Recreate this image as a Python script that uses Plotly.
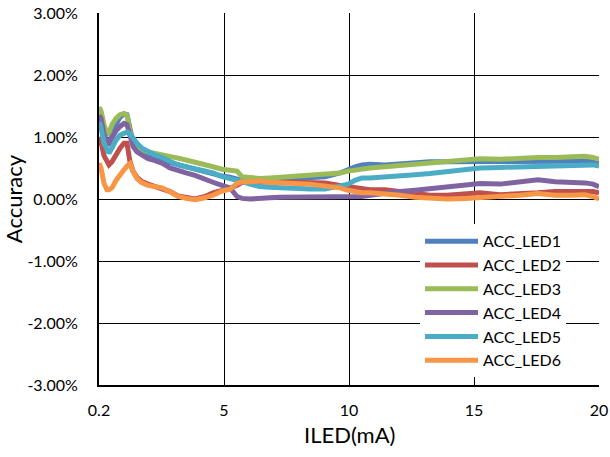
import plotly.graph_objects as go

# x positions (mA scale of the category axis; first sample is 0.2 mA)
iled = [0, 0.08, 0.2, 0.32, 0.4, 0.52, 0.68, 0.84, 1.0, 1.12, 1.24, 1.36, 1.52, 1.72, 1.96,
        2.24, 2.52, 2.84, 3.16, 3.48, 3.84, 4.24, 4.56, 4.92, 5.24, 5.52, 5.72, 6.04, 6.44,
        6.84, 7.24, 7.84, 8.44, 9.04, 9.64, 9.96, 10.24, 10.52, 10.84, 11.44, 12.04, 12.64,
        13.24, 13.92, 14.64, 15.24, 16.04, 16.84, 17.56, 18.24, 18.84, 19.44, 19.76, 20.0]

acc_led1 = [1.32, 1.25, 1.0, 0.88, 0.9, 1.05, 1.2, 1.32, 1.37, 1.36, 1.1, 0.92, 0.8, 0.72, 0.68,
            0.65, 0.62, 0.6, 0.56, 0.52, 0.48, 0.44, 0.4, 0.37, 0.35, 0.33, 0.3, 0.3, 0.3, 0.31,
            0.32, 0.33, 0.34, 0.36, 0.42, 0.48, 0.52, 0.55, 0.56, 0.55, 0.57, 0.6, 0.6, 0.6, 0.6,
            0.6, 0.59, 0.6, 0.6, 0.61, 0.61, 0.62, 0.6, 0.58]
acc_led2 = [1.0, 0.92, 0.7, 0.58, 0.55, 0.6, 0.72, 0.82, 0.9, 0.9, 0.6, 0.45, 0.35, 0.28, 0.24,
            0.2, 0.17, 0.12, 0.05, 0.02, 0.0, 0.04, 0.1, 0.14, 0.17, 0.22, 0.27, 0.28, 0.27, 0.28,
            0.27, 0.27, 0.27, 0.26, 0.22, 0.2, 0.17, 0.15, 0.15, 0.15, 0.12, 0.08, 0.06, 0.06,
            0.08, 0.1, 0.07, 0.08, 0.1, 0.12, 0.12, 0.14, 0.12, 0.1]
acc_led3 = [1.48, 1.42, 1.2, 1.05, 1.07, 1.2, 1.3, 1.36, 1.38, 1.35, 1.1, 0.95, 0.85, 0.78, 0.76,
            0.74, 0.71, 0.7, 0.66, 0.63, 0.6, 0.55, 0.52, 0.48, 0.46, 0.45, 0.36, 0.34, 0.33, 0.34,
            0.35, 0.36, 0.37, 0.39, 0.42, 0.45, 0.47, 0.49, 0.5, 0.52, 0.54, 0.56, 0.58, 0.6, 0.63,
            0.65, 0.64, 0.66, 0.67, 0.67, 0.68, 0.69, 0.67, 0.64]
acc_led4 = [1.35, 1.3, 1.05, 0.92, 0.9, 1.0, 1.1, 1.17, 1.22, 1.2, 1.0, 0.85, 0.76, 0.7, 0.65,
            0.62, 0.58, 0.5, 0.45, 0.42, 0.38, 0.31, 0.27, 0.22, 0.18, 0.04, 0.01, 0.0, 0.0, 0.02,
            0.03, 0.03, 0.03, 0.03, 0.02, 0.02, 0.03, 0.04, 0.06, 0.1, 0.12, 0.14, 0.17, 0.2, 0.23,
            0.25, 0.24, 0.27, 0.31, 0.28, 0.28, 0.26, 0.24, 0.2]
acc_led5 = [1.24, 1.15, 0.9, 0.77, 0.74, 0.82, 0.95, 1.03, 1.07, 1.08, 1.05, 0.97, 0.9, 0.82, 0.76,
            0.71, 0.67, 0.6, 0.55, 0.52, 0.49, 0.44, 0.42, 0.36, 0.33, 0.31, 0.28, 0.24, 0.2, 0.19,
            0.18, 0.17, 0.16, 0.16, 0.2, 0.24, 0.3, 0.34, 0.34, 0.35, 0.37, 0.39, 0.41, 0.44, 0.47,
            0.5, 0.51, 0.52, 0.53, 0.55, 0.55, 0.56, 0.55, 0.53]
acc_led6 = [0.58, 0.5, 0.25, 0.15, 0.15, 0.18, 0.3, 0.4, 0.47, 0.53, 0.57, 0.45, 0.33, 0.26, 0.22,
            0.2, 0.18, 0.12, 0.04, 0.01, -0.01, 0.02, 0.06, 0.13, 0.16, 0.25, 0.28, 0.28, 0.29, 0.27,
            0.27, 0.25, 0.24, 0.22, 0.18, 0.14, 0.11, 0.1, 0.1, 0.09, 0.06, 0.03, 0.01, 0.0, 0.01,
            0.02, 0.03, 0.06, 0.09, 0.06, 0.06, 0.07, 0.04, 0.0]

series_names = ["ACC_LED1", "ACC_LED2", "ACC_LED3", "ACC_LED4", "ACC_LED5", "ACC_LED6"]
series_vals = [acc_led1, acc_led2, acc_led3, acc_led4, acc_led5, acc_led6]
colors = ["#4F81BD", "#C0504D", "#9BBB59", "#8064A2", "#4BACC6", "#F79646"]

x_tickvals = [0, 5, 10, 15, 20]
x_ticktext = ["0.2", "5", "10", "15", "20"]
y_tickvals = [-3, -2, -1, 0, 1, 2, 3]
y_ticktext = ["-3.00%", "-2.00%", "-1.00%", "0.00%", "1.00%", "2.00%", "3.00%"]

FONT = "Lato, 'Open Sans', sans-serif"

fig = go.Figure()
for name, vals, c in zip(series_names, series_vals, colors):
    fig.add_trace(go.Scatter(x=iled, y=vals, mode="lines", name=name,
                             line=dict(color=c, width=5, shape="linear")))

fig.update_layout(
    width=610, height=457,
    margin=dict(l=99, r=11, t=13, b=72, autoexpand=False),
    paper_bgcolor="white", plot_bgcolor="white",
    font=dict(family=FONT, color="black", size=16),
    showlegend=True,
    legend=dict(x=0.642, y=0.432, xanchor="left", yanchor="top",
                bgcolor="white", font=dict(size=16, family=FONT, color="black"),
                tracegroupgap=0, itemwidth=53),
    xaxis=dict(range=[0, 20], tickvals=x_tickvals, ticktext=x_ticktext,
               showgrid=True, gridcolor="black", gridwidth=1.3,
               showline=True, linecolor="black", linewidth=2, mirror=False,
               zeroline=False, ticks="", automargin=False, ticklabelstandoff=10,
               tickfont=dict(size=16, family=FONT)),
    yaxis=dict(range=[-3, 3], tickvals=y_tickvals, ticktext=y_ticktext,
               showgrid=True, gridcolor="black", gridwidth=1.3,
               showline=True, linecolor="black", linewidth=2,
               zeroline=False, ticks="", automargin=False, ticklabelstandoff=16,
               tickfont=dict(size=16, family=FONT),
               title=dict(text="Accuracy", font=dict(size=22, family=FONT), standoff=8)),
    annotations=[dict(text="ILED(mA)", xref="paper", yref="paper", x=0.5, y=0,
                      xanchor="center", yanchor="middle", yshift=-49, showarrow=False,
                      font=dict(size=22, family=FONT, color="black"))],
)

fig.write_html("out.html")
